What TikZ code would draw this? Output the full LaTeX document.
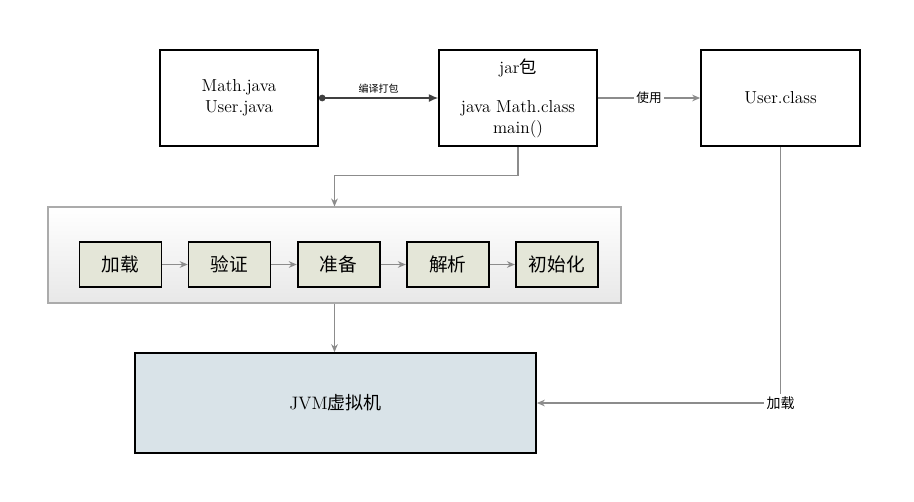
\documentclass[tikz,border=0pt]{standalone}
\usepackage{fontspec}
\newfontfamily\cjk{Noto Sans CJK SC}
\usepackage{xcolor}
\usepackage{tikz}
\usetikzlibrary{arrows.meta, positioning}
\definecolor{linegray}{HTML}{8C8C8C}
\definecolor{framegray}{HTML}{ABABAB}
\definecolor{stepfill}{HTML}{E4E6D8}
\definecolor{jvmfill}{HTML}{D9E3E8}
\tikzset{
    shapenode/.style = {draw, rectangle, line width=1.3pt, fill=white, minimum width=118.5pt,
      minimum height=72pt, inner sep=0pt, align=center, font=\fontsize{13}{15.5}\selectfont},
    stepnode/.style = {draw, rectangle, line width=1.3pt, fill=stepfill, minimum width=61.5pt,
      minimum height=33.75pt, inner sep=0pt, font=\cjk\fontsize{14}{15}\selectfont},
    framenode/.style = {draw=framegray, rectangle, line width=0.8pt, top color=white,
      bottom color=black!9, minimum width=429.75pt, minimum height=72pt},
    jvmnode/.style = {draw, rectangle, line width=1.3pt, fill=jvmfill, minimum width=300.75pt,
      minimum height=75pt, font=\fontsize{13.5}{15}\selectfont},
    textnode/.style = {draw=none, fill=none, rectangle, inner sep=2pt, text=black},
    connect/.style = {black!75, line width=0.9pt, {Circle[length=5pt]}-{Latex[length=7pt, width=6pt]}},
    grayconnect/.style = {linegray, line width=0.8pt, -{Stealth[length=6pt, width=5pt]}},
    grayline/.style = {linegray, line width=0.8pt},
    every text node part/.style={align=center}
}

\begin{document}
\begin{tikzpicture}[x=0.75pt, y=-0.75pt]
\useasboundingbox (0,0) rectangle (914,501);

% top row
\node [shapenode, name=Src] at (239,98) {Math.java\\User.java};
\node [shapenode, name=Jar] at (518,98) {jar{\cjk 包}\\[14pt]java Math.class\\main()};
\node [shapenode, name=User, minimum width=119.25pt] at (780.5,98) {User.class};

\draw [connect] (Src) -- node [textnode, above, yshift=1pt, name=pack, font=\cjk\fontsize{7.5}{9}\selectfont] {编译打包} (Jar);
\draw [grayconnect] (Jar) -- node [textnode, fill=white, name=use, font=\cjk\fontsize{9.5}{11}\selectfont] {使用} (User);

% class loading stages
\node [framenode, name=Stages] at (334.5,255) {};
\node [stepnode, name=Load] at (120.5,264.5) {加载};
\node [stepnode, name=Verify, right=19pt of Load] {验证};
\node [stepnode, name=Prepare, right=19pt of Verify] {准备};
\node [stepnode, name=Resolve, right=19pt of Prepare] {解析};
\node [stepnode, name=Init, right=19pt of Resolve] {初始化};

\draw [grayconnect] (Load) -- (Verify);
\draw [grayconnect] (Verify) -- (Prepare);
\draw [grayconnect] (Prepare) -- (Resolve);
\draw [grayconnect] (Resolve) -- (Init);

\draw [grayconnect] (Jar.south) -- ++(0,29) -| (Stages.north);

% jvm
\node [jvmnode, name=JVM] at (335.5,403) {JVM{\cjk 虚拟机}};
\draw [grayconnect] (Stages.south) -- (Stages.south |- JVM.north);

\node [textnode, name=loadtext, font=\cjk\fontsize{10.5}{12}\selectfont] at (User.south |- JVM.east) {加载};
\draw [grayline] (User) -- (loadtext);
\draw [grayconnect] (loadtext) -- (JVM.east);

\end{tikzpicture}
\end{document}
